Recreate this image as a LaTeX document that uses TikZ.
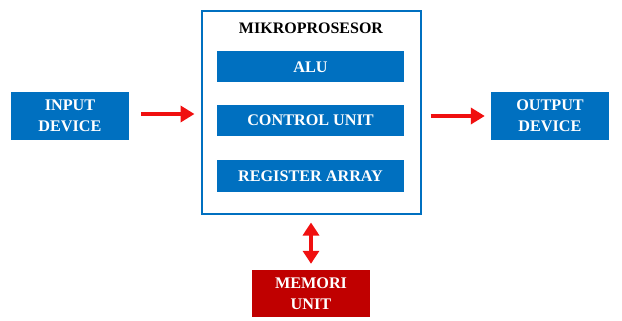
\documentclass[tikz,border=0pt]{standalone}
\usepackage{fontspec}
\setmainfont{Liberation Serif}
\usepackage{tikz}
\usetikzlibrary{arrows.meta,positioning}
\definecolor{cpublue}{HTML}{0070C0}
\definecolor{memred}{HTML}{C00000}
\definecolor{arrowred}{HTML}{F01010}

\begin{document}
\begin{tikzpicture}[x=1pt,y=-1pt,
    box/.style={fill=cpublue,text=white,align=center,minimum width=118pt,minimum height=48pt,
        font=\fontsize{16.2}{21}\selectfont\bfseries,inner sep=0pt},
    part/.style={box,minimum width=187pt,minimum height=31pt},
    flow/.style={-{Triangle[length=14pt,width=16pt]},line width=4.5pt,arrowred}]
\useasboundingbox (0,0) rectangle (622,321);
\node[draw=cpublue,line width=2pt,minimum width=219pt,minimum height=202pt,inner sep=0pt] (cpu) at (311,112.5) {};
\node[font=\fontsize{16}{18}\selectfont\bfseries] (title) at (311,28) {MIKROPROSESOR};
\node[part] (alu) at (310.5,67) {ALU};
\node[part] (control) at (310.5,120.5) {CONTROL UNIT};
\node[part,minimum height=32pt] (register) at (310.5,176) {REGISTER ARRAY};

\node[box] (input) at (70,116) {INPUT\\DEVICE};
\node[box] (output) at (550,116) {OUTPUT\\DEVICE};
\node[box,fill=memred,minimum height=47pt] (memory) at (311,293.5) {MEMORI\\UNIT};

\draw[flow,shorten <=12pt,shorten >=6pt] ([yshift=2pt]input.east) -- ([yshift=2pt]input.east -| cpu.west);
\draw[flow,shorten <=9pt,shorten >=6pt] (cpu.east |- output.east) -- (output.east -| output.west);
\draw[flow,{Triangle[length=13pt,width=16pt]}-{Triangle[length=13pt,width=16pt]},shorten <=8pt,shorten >=6pt] (cpu.south) -- (memory.north);
\end{tikzpicture}
\end{document}
